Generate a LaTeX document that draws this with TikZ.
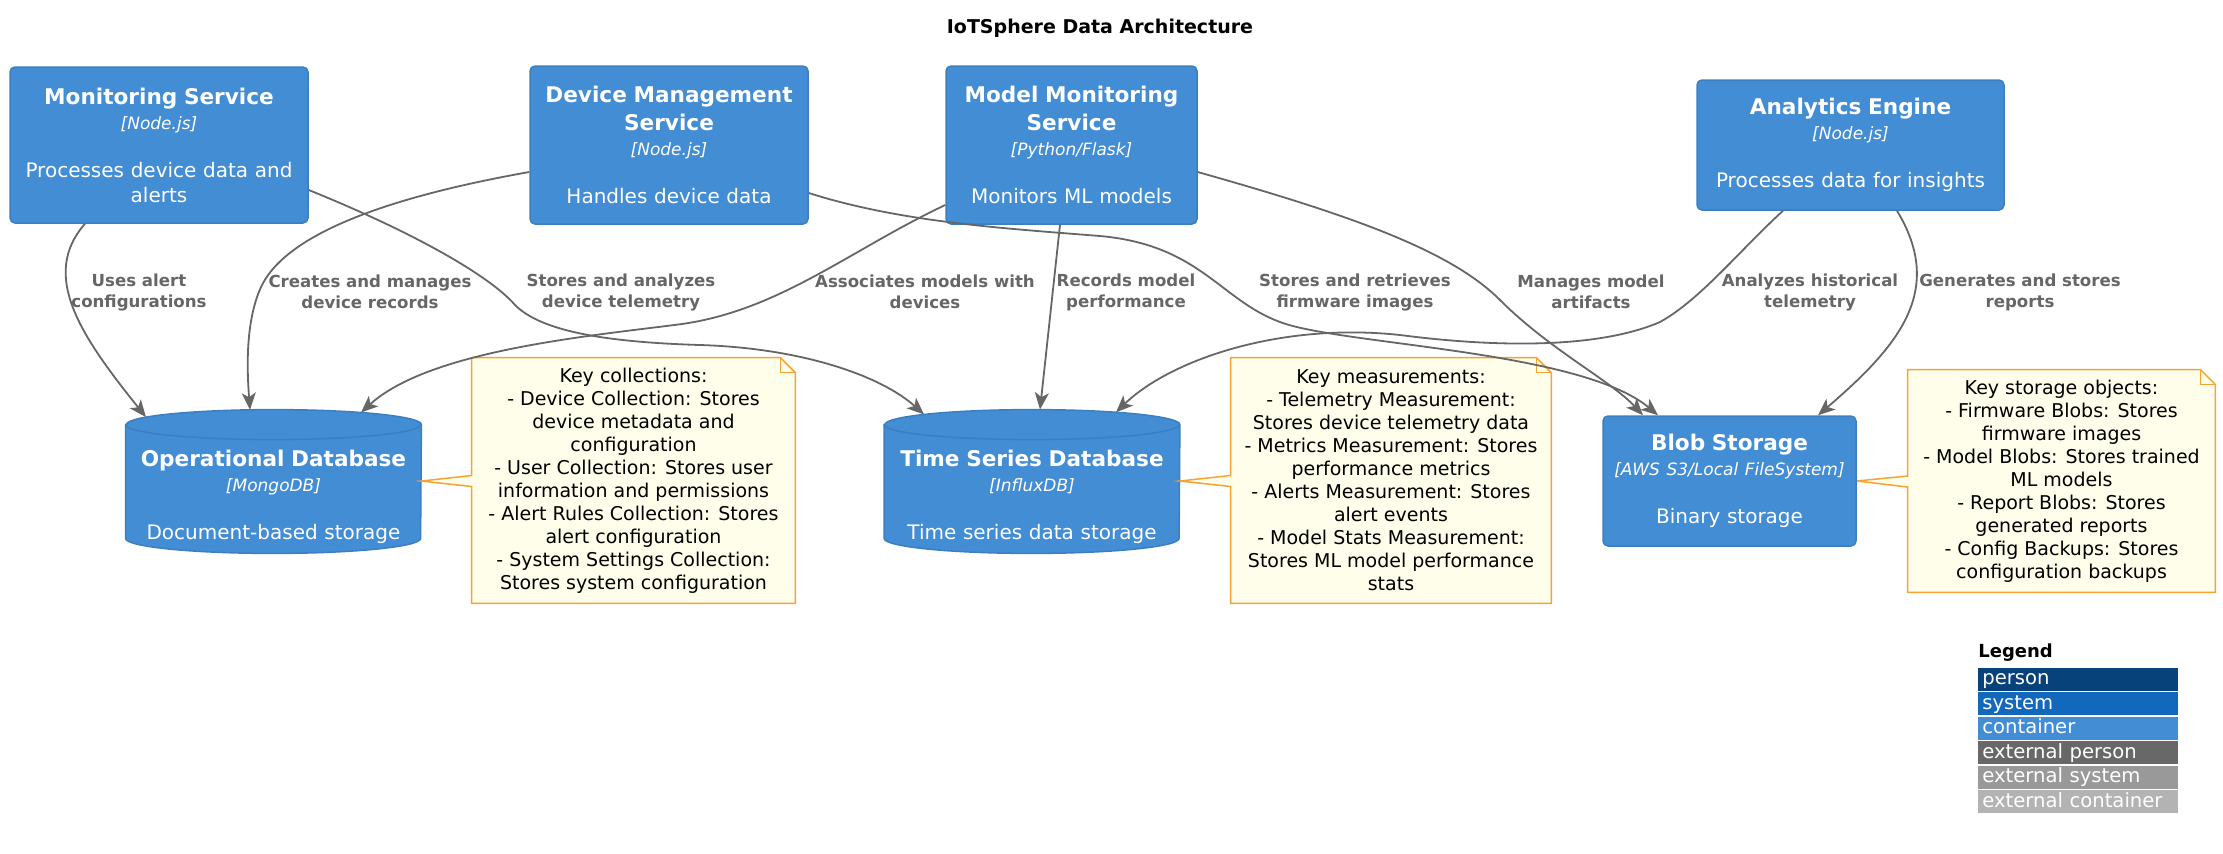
\documentclass[tikz,border=0pt]{standalone}
\usepackage{fontspec}
\setmainfont{DejaVu Sans}
\usetikzlibrary{arrows.meta,backgrounds}

% 颜色
\definecolor{ctrfill}{HTML}{438DD5}
\definecolor{ctrline}{HTML}{3C7FC0}
\definecolor{relgray}{HTML}{666666}
\definecolor{notefill}{HTML}{FEFEEA}
\definecolor{noteorange}{HTML}{F7A331}
\definecolor{lgperson}{HTML}{08427B}
\definecolor{lgsystem}{HTML}{1168BD}
\definecolor{lgextperson}{HTML}{686868}
\definecolor{lgextsystem}{HTML}{999999}
\definecolor{lgextctr}{HTML}{B3B3B3}

% 容器文字：名称、技术、说明
\newcommand{\ctrtext}[3]{%
  {\fontsize{10.8}{14}\selectfont\bfseries #1\par}%
  {\fontsize{8.5}{12.5}\selectfont\itshape [#2]\par}%
  \vspace{11.5pt}%
  {\fontsize{10}{12.5}\selectfont #3\par}}

% 数据库圆柱（围绕主体节点）
\newcommand{\dbcyl}[1]{%
  \path[dbline] ([yshift=7.5pt]#1.north west) -- ([yshift=7.5pt]#1.south west)
    arc[start angle=180, end angle=360, x radius=73.75pt, y radius=7.5pt]
    -- ([yshift=7.5pt]#1.north east)
    arc[start angle=0, end angle=180, x radius=73.75pt, y radius=7.5pt] -- cycle;
  \draw[ctrline, line width=0.75pt] ([yshift=7.5pt]#1.north west)
    arc[start angle=180, end angle=360, x radius=73.75pt, y radius=7.5pt];}

% 便签外框：折角 + 指针
\newcommand{\noteshape}[2]{%
  \path[noteedge] (#1.north west) -- ([xshift=-7.5pt]#1.north east)
    -- ([yshift=-7.5pt]#1.north east) -- (#1.south east) -- (#1.south west)
    -- ([yshift=-3pt]#1.west) -- (#2) -- ([yshift=2.5pt]#1.west) -- cycle;
  \draw[noteorange, line width=0.75pt] ([xshift=-7.5pt]#1.north east)
    -- ([xshift=-7.5pt,yshift=-7.5pt]#1.north east) -- ([yshift=-7.5pt]#1.north east);}

\tikzset{
  container/.style={rectangle, rounded corners=2.5pt, fill=ctrfill, draw=ctrline,
    line width=0.75pt, text=white, align=center, inner sep=0pt},
  dbbody/.style={rectangle, inner sep=0pt, text=white, align=center,
    minimum width=147.5pt, minimum height=56.5pt, text width=141pt},
  dbline/.style={fill=ctrfill, draw=ctrline, line width=0.75pt},
  notetext/.style={rectangle, inner sep=0pt, align=center,
    font=\fontsize{9.5}{11.5}\selectfont},
  noteedge/.style={fill=notefill, draw=noteorange, line width=0.75pt},
  rel/.style={draw=relgray, line width=0.9pt,
    -{Stealth[length=8.5pt,width=7pt,inset=2.2pt]}},
  rellabel/.style={text=relgray, align=center, inner sep=0pt,
    font=\fontsize{8.3}{10.5}\selectfont\bfseries},
  legendrow/.style={anchor=west, text=white, minimum height=11.5pt,
    text width=96pt, inner xsep=2pt, inner ysep=0pt, align=left,
    text height=7.6pt, text depth=1.8pt,
    font=\fontsize{9.8}{11}\selectfont}
}

\begin{document}
\begin{tikzpicture}[x=0.5pt, y=-0.5pt] % 以像素为单位，y 向下
    \useasboundingbox (0,0) rectangle (2223,853);

    % 标题
    \node[font=\fontsize{9.5}{11}\selectfont\bfseries] (title) at (1100,28)
        {IoTSphere Data Architecture};

    % === 容器 ===
    \node[container, minimum width=149pt, minimum height=78pt, text width=143pt] (mon) at (159,145)
        {\ctrtext{Monitoring Service}{Node.js}{Processes device data and\\alerts}};
    \node[container, minimum width=139pt, minimum height=79pt, text width=133pt] (dev) at (669,145)
        {\ctrtext{Device Management\\Service}{Node.js}{Handles device data}};
    \node[container, minimum width=125.5pt, minimum height=79pt, text width=120pt] (mm) at (1071.5,145)
        {\ctrtext{Model Monitoring\\Service}{Python/Flask}{Monitors ML models}};
    \node[container, minimum width=153.5pt, minimum height=65pt, text width=147pt] (ana) at (1850.5,145)
        {\ctrtext{Analytics Engine}{Node.js}{Processes data for insights}};
    \node[container, minimum width=126.5pt, minimum height=65pt, text width=121pt] (blob) at (1729.5,481)
        {\ctrtext{Blob Storage}{AWS S3/Local FileSystem}{Binary storage}};

    % === 数据库 ===
    \node[dbbody] (opdb) at (273.5,496.5)
        {\ctrtext{Operational Database}{MongoDB}{Document-based storage}};
    \node[dbbody] (tsdb) at (1032,496.5)
        {\ctrtext{Time Series Database}{InfluxDB}{Time series data storage}};

    % === 便签 ===
    \node[notetext, minimum width=161.5pt, minimum height=122.5pt] (noteop) at (633.5,480.5)
        {Key collections:\\- Device Collection: Stores\\device metadata and\\configuration\\- User Collection: Stores user\\information and permissions\\- Alert Rules Collection: Stores\\alert configuration\\- System Settings Collection:\\Stores system configuration};
    \node[notetext, minimum width=160pt, minimum height=122.5pt] (notets) at (1391,480.5)
        {Key measurements:\\- Telemetry Measurement:\\Stores device telemetry data\\- Metrics Measurement: Stores\\performance metrics\\- Alerts Measurement: Stores\\alert events\\- Model Stats Measurement:\\Stores ML model performance\\stats};
    \node[notetext, minimum width=153.5pt, minimum height=111pt] (noteblob) at (2061.5,481)
        {Key storage objects:\\- Firmware Blobs: Stores\\firmware images\\- Model Blobs: Stores trained\\ML models\\- Report Blobs: Stores\\generated reports\\- Config Backups: Stores\\configuration backups};

    \begin{scope}[on background layer]
        \dbcyl{opdb}
        \dbcyl{tsdb}
        \noteshape{noteop}{[yshift=7.75pt]opdb.east}
        \noteshape{notets}{[yshift=7.75pt]tsdb.east}
        \noteshape{noteblob}{blob.east}
    \end{scope}

    % === 关系连线 ===
    \draw[rel] ([xshift=-37pt]mon.south) .. controls (40,275) and (80,335)
        .. ([xshift=-63.75pt,yshift=11.25pt]opdb.north);
    \draw[rel] ([yshift=-22.5pt]mon.east) .. controls (420,235) and (492,278) .. (515,305)
        .. controls (540,330) and (600,342) .. (700,345)
        .. controls (800,348) and (880,375) .. ([xshift=-54pt,yshift=12.6pt]tsdb.north);
    \draw[rel] ([yshift=-13.5pt]dev.west) .. controls (400,195) and (290,230) .. (262,285)
        .. controls (245,320) and (247,370) .. ([xshift=-11.75pt,yshift=14.9pt]opdb.north);
    \draw[rel] ([yshift=-24pt]dev.east) .. controls (900,222) and (1000,228) .. (1100,236)
        .. controls (1200,245) and (1220,300) .. (1280,322)
        .. controls (1340,345) and (1580,350) .. ([xshift=-35.75pt]blob.north);
    \draw[rel] ([yshift=-30pt]mm.west) .. controls (850,250) and (780,310) .. (682,324)
        .. controls (590,336) and (430,350) .. ([xshift=43.75pt,yshift=13.55pt]opdb.north);
    \draw[rel] ([xshift=-5.75pt]mm.south) -- ([xshift=4pt,yshift=15pt]tsdb.north);
    \draw[rel] ([yshift=-13.5pt]mm.east) .. controls (1350,215) and (1450,250) .. (1500,300)
        .. controls (1550,350) and (1610,380) .. ([xshift=-43.25pt]blob.north);
    \draw[rel] ([xshift=-33.75pt]ana.south) .. controls (1740,250) and (1700,300) .. (1660,322)
        .. controls (1600,348) and (1500,348) .. (1400,335)
        .. controls (1280,322) and (1170,360) .. ([xshift=42pt,yshift=13.65pt]tsdb.north);
    \draw[rel] ([xshift=23.25pt]ana.south) .. controls (1945,290) and (1900,345)
        .. ([xshift=44.25pt]blob.north);

    % 连线标签
    \node[rellabel] (lbalert) at (139,292) {Uses alert\\configurations};
    \node[rellabel] (lbrecords) at (370,292) {Creates and manages\\device records};
    \node[rellabel] (lbtelem) at (621,292) {Stores and analyzes\\device telemetry};
    \node[rellabel] (lbassoc) at (925,292) {Associates models with\\devices};
    \node[rellabel] (lbperf) at (1126,292) {Records model\\performance};
    \node[rellabel] (lbfirm) at (1355,292) {Stores and retrieves\\firmware images};
    \node[rellabel] (lbartif) at (1591,292) {Manages model\\artifacts};
    \node[rellabel] (lbhist) at (1810,292) {Analyzes historical\\telemetry};
    \node[rellabel] (lbreport) at (2020,292) {Generates and stores\\reports};

    % === 图例 ===
    \node[anchor=west, inner sep=0pt, font=\fontsize{9}{11}\selectfont\bfseries] (lgtitle) at (1978,653) {Legend};
    \node[legendrow, fill=lgperson] (lgperson) at (1978,679) {person};
    \node[legendrow, fill=lgsystem] (lgsystem) at (1978,703.5) {system};
    \node[legendrow, fill=ctrfill] (lgctr) at (1978,728) {container};
    \node[legendrow, fill=lgextperson] (lgextperson) at (1978,752.5) {external person};
    \node[legendrow, fill=lgextsystem] (lgextsystem) at (1978,777) {external system};
    \node[legendrow, fill=lgextctr] (lgextctr) at (1978,801.5) {external container};
\end{tikzpicture}
\end{document}
